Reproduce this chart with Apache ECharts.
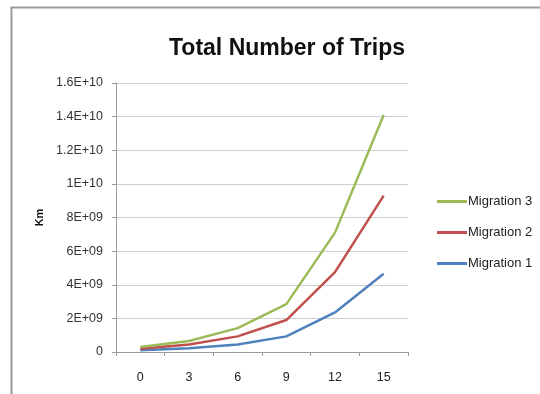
<!DOCTYPE html>
<html>
<head>
<meta charset="utf-8">
<script src="https://cdn.jsdelivr.net/npm/echarts@6/dist/echarts.min.js"></script>
<style>
  html, body { margin: 0; padding: 0; background: #fff; }
  #chart { width: 540px; height: 394px; }
</style>
</head>
<body>
<div id="chart"></div>
<script>
// Months since start
const categories = ['0', '3', '6', '9', '12', '15'];

// Total trips (km) per migration scenario
const migration1 = [1.0e8, 2.2e8, 4.5e8, 9.3e8, 2.35e9, 4.65e9];
const migration2 = [2.0e8, 4.5e8, 9.3e8, 1.9e9, 4.75e9, 9.3e9];
const migration3 = [3.0e8, 6.5e8, 1.42e9, 2.85e9, 7.1e9, 1.41e10];

const yMax = 1.6e10;
const yStep = 2e9;

const seriesColors = { m1: '#4F81BD', m2: '#C0504D', m3: '#9BBB59' };

// Spreadsheet-style scientific labels: 2E+09, 1.4E+10
function sciLabel(v) {
  if (v === 0) return '0';
  const exp = Math.floor(Math.log10(v) + 1e-9);
  let mant = v / Math.pow(10, exp);
  mant = Math.round(mant * 10) / 10;
  const e = exp < 10 ? '0' + exp : String(exp);
  return mant + 'E+' + e;
}

const chart = echarts.init(document.getElementById('chart'), null, { renderer: 'canvas' });

const font = 'Liberation Sans, Arial, sans-serif';

function lineSeries(name, data, color) {
  return {
    name: name,
    type: 'line',
    data: data,
    symbol: 'none',
    lineStyle: { color: color, width: 2.5 },
    itemStyle: { color: color },
    z: 3
  };
}

chart.setOption({
  animation: false,
  backgroundColor: '#ffffff',
  textStyle: { fontFamily: font },
  graphic: [{
    type: 'polyline',
    shape: { points: [[11.5, 394], [11.5, 7.5], [540, 7.5]] },
    style: { stroke: '#9a9a9a', lineWidth: 2, fill: null },
    silent: true
  }],
  title: {
    text: 'Total Number of Trips',
    left: 282,
    textAlign: 'center',
    top: 32,
    textStyle: { fontFamily: font, fontSize: 23, fontWeight: 'bold', color: '#111' }
  },
  legend: {
    orient: 'vertical',
    left: 432,
    top: 190,
    itemGap: 18,
    itemWidth: 30,
    itemHeight: 3,
    icon: 'rect',
    data: ['Migration 3', 'Migration 2', 'Migration 1'],
    textStyle: { fontFamily: font, fontSize: 13, color: '#222', padding: [0, 0, 0, -4] }
  },
  grid: { left: 116, right: 132, top: 83, bottom: 42 },
  xAxis: {
    type: 'category',
    data: categories,
    boundaryGap: true,
    axisLine: { lineStyle: { color: '#9a9a9a', width: 1 } },
    axisTick: { show: true, alignWithLabel: false, length: 4, lineStyle: { color: '#9a9a9a' } },
    axisLabel: { fontFamily: font, fontSize: 12.5, color: '#222', margin: 19 }
  },
  yAxis: {
    type: 'value',
    min: 0,
    max: yMax,
    interval: yStep,
    name: 'Km',
    nameLocation: 'middle',
    nameGap: 70,
    nameRotate: 90,
    nameTextStyle: { fontFamily: font, fontSize: 11, fontWeight: 'bold', color: '#111' },
    axisLine: { show: true, lineStyle: { color: '#9a9a9a', width: 1 } },
    axisTick: { show: true, length: 4, lineStyle: { color: '#9a9a9a' } },
    axisLabel: { fontFamily: font, fontSize: 12.5, color: '#333', margin: 13, formatter: sciLabel },
    splitLine: { lineStyle: { color: '#cfcfcf', width: 1 } }
  },
  series: [
    lineSeries('Migration 1', migration1, seriesColors.m1),
    lineSeries('Migration 2', migration2, seriesColors.m2),
    lineSeries('Migration 3', migration3, seriesColors.m3)
  ]
});
</script>
</body>
</html>
